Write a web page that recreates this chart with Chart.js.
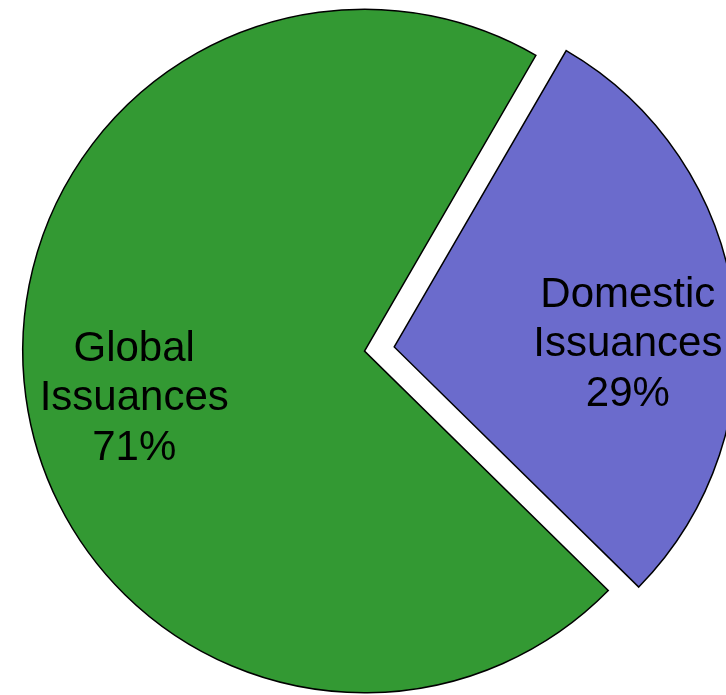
<!DOCTYPE html>
<html>
<head>
<meta charset="utf-8">
<title>Issuances</title>
<script src="https://cdn.jsdelivr.net/npm/chart.js@4/dist/chart.umd.min.js"></script>
<style>
  html, body { margin: 0; padding: 0; background: #fff; }
  #wrap { position: relative; width: 726px; height: 695px; overflow: hidden; }
  #pie { position: absolute; left: -38px; top: -52px; }
</style>
</head>
<body>
<div id="wrap">
  <canvas id="pie" width="805" height="806" style="width:805px;height:806px"></canvas>
</div>
<script>
// --- data ---
const NAMES = [['Domestic', 'Issuances'], ['Global', 'Issuances']];
const SHARES = [29, 71];
const COLORS = ['#6b6bcc', '#339933'];
// chart.js moves an arc by roughly offset / 4
const EXPLODE = [120, 0];

// label placement: fraction of radius along the slice middle, extra vertical shift
const LABEL_POS = [[0.687, 26], [0.68, 13]];

// same shift ArcElement.draw applies for `offset`
function arcShift(offset, circumference) {
  const o = offset / 4;
  const fix = 1 - Math.sin(Math.min(Math.PI, circumference || 0));
  return o + o * fix;
}

// --- slice labels drawn inside the arcs ---
const sliceLabels = {
  id: 'sliceLabels',
  afterDatasetsDraw(chart) {
    const ctx = chart.ctx;
    const meta = chart.getDatasetMeta(0);
    ctx.save();
    ctx.font = '42px Arial, "Liberation Sans", sans-serif';
    ctx.fillStyle = '#000';
    ctx.textAlign = 'center';
    ctx.textBaseline = 'alphabetic';
    const lineH = 49.5;
    meta.data.forEach((arc, i) => {
      const p = arc.getProps(['x', 'y', 'startAngle', 'endAngle', 'outerRadius', 'circumference'], true);
      const mid = (p.startAngle + p.endAngle) / 2;
      const [k, dy] = LABEL_POS[i];
      const dist = arcShift(EXPLODE[i], p.circumference) + k * p.outerRadius;
      const cx = p.x + Math.cos(mid) * dist;
      const cy = p.y + Math.sin(mid) * dist + dy;
      const lines = [...NAMES[i], SHARES[i] + '%'];
      lines.forEach((t, j) => {
        ctx.fillText(t, cx, cy + (j - 1) * lineH + 15);
      });
    });
    ctx.restore();
  }
};

new Chart(document.getElementById('pie'), {
  type: 'pie',
  data: {
    labels: NAMES.map(n => n.join(' ')),
    datasets: [{
      data: SHARES,
      backgroundColor: COLORS,
      borderColor: '#000',
      borderWidth: 1.5,
      hoverBorderWidth: 1.5,
      borderJoinStyle: 'miter',
      offset: EXPLODE,
      hoverOffset: 0
    }]
  },
  options: {
    responsive: false,
    animation: false,
    rotation: 30.1,
    events: [],
    layout: { padding: 0 },
    plugins: {
      legend: { display: false },
      tooltip: { enabled: false }
    }
  },
  plugins: [sliceLabels]
});
</script>
</body>
</html>
